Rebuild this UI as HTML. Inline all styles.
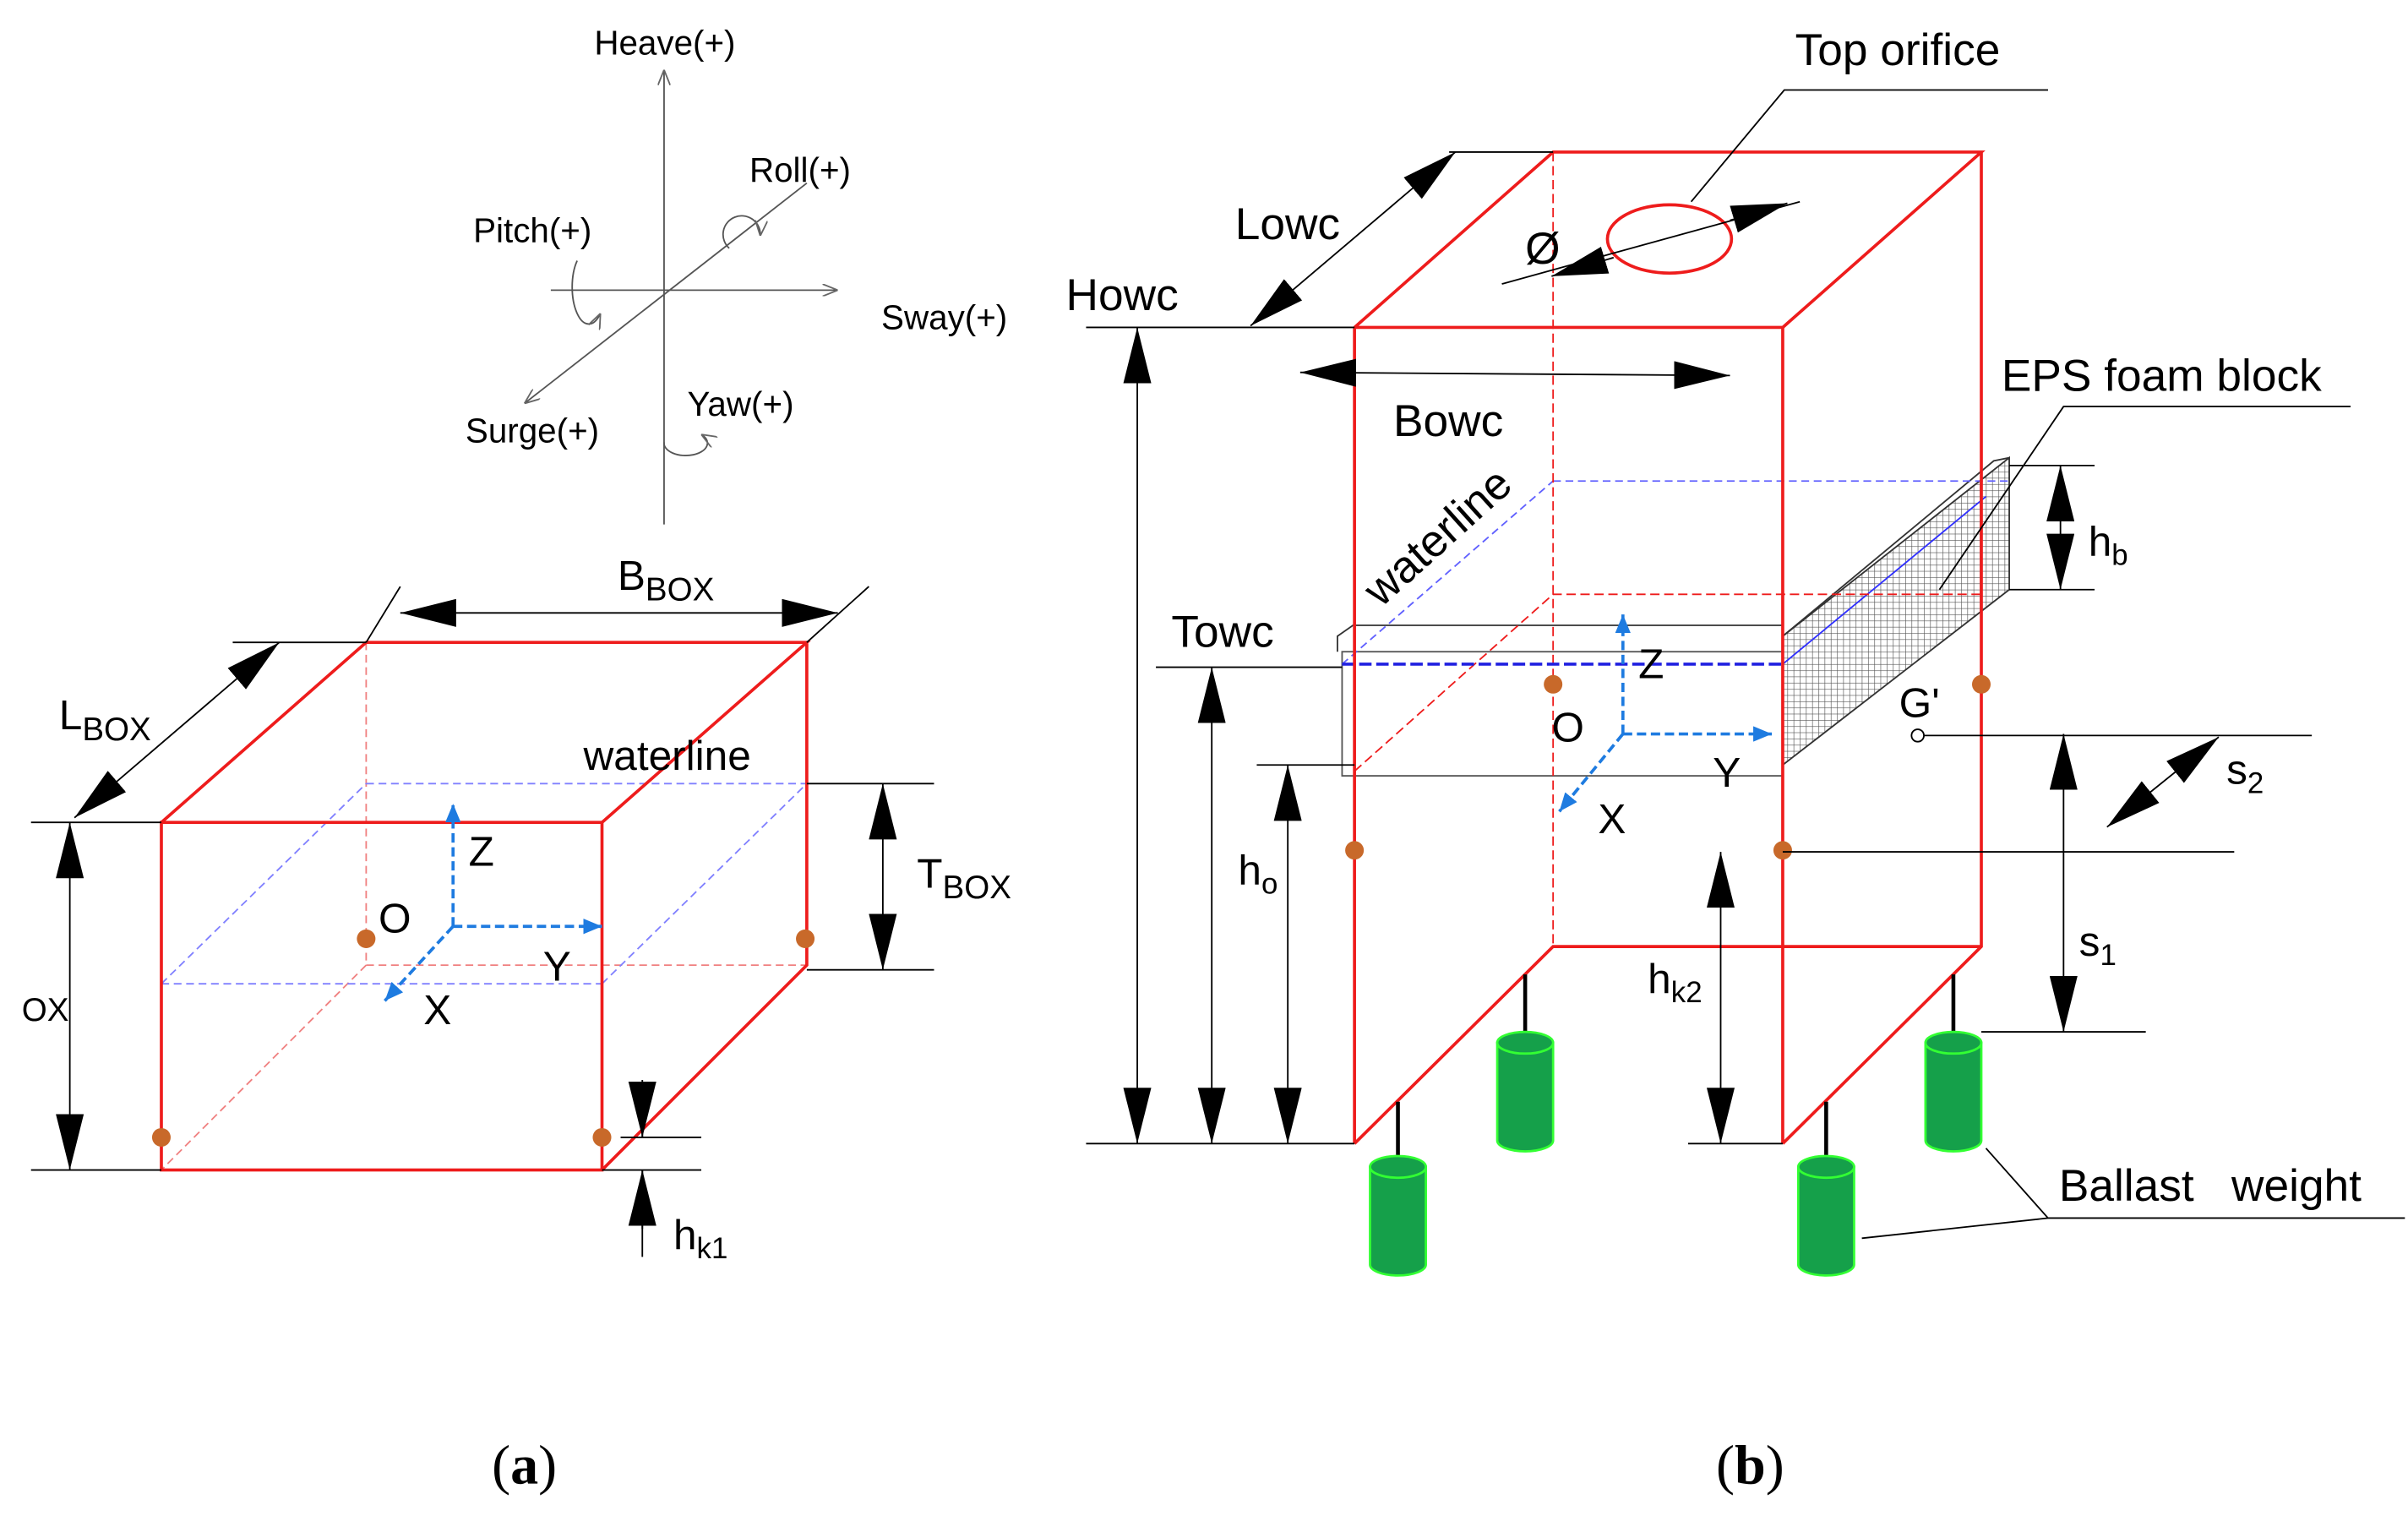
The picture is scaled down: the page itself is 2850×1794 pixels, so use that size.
<!DOCTYPE html>
<html><head><meta charset="utf-8"><style>
html,body{margin:0;padding:0;background:#fff}
svg{display:block}
text{font-family:"Liberation Sans",sans-serif;fill:#000}
</style></head><body>
<svg width="2850" height="1794" viewBox="0 0 1552 977" preserveAspectRatio="none" xmlns="http://www.w3.org/2000/svg">
<defs>
<marker id="ar" viewBox="0 0 36 18" refX="36" refY="9" markerWidth="36" markerHeight="18" markerUnits="userSpaceOnUse" orient="auto-start-reverse"><path d="M0,0 L36,9 L0,18 Z" fill="#000"/></marker>
<marker id="ab" viewBox="0 0 12 10" refX="12" refY="5" markerWidth="12" markerHeight="10" markerUnits="userSpaceOnUse" orient="auto"><path d="M0,0 L12,5 L0,10 Z" fill="#1e7be0"/></marker>
<marker id="ag" viewBox="0 0 10 8" refX="10" refY="4" markerWidth="10" markerHeight="8" markerUnits="userSpaceOnUse" orient="auto"><path d="M0,0 L10,4 L0,8" fill="none" stroke="#666"/></marker>
<pattern id="hatch" width="4" height="4" patternUnits="userSpaceOnUse"><path d="M0,0H4M0,0V4" stroke="#555" stroke-width="0.7"/></pattern>
</defs>

<!-- motion axes -->
<g stroke="#555" stroke-width="1" fill="none">
<line x1="428" y1="338" x2="428" y2="45" marker-end="url(#ag)"/>
<line x1="355" y1="187" x2="540" y2="187" marker-end="url(#ag)"/>
<line x1="520" y1="118" x2="338" y2="260" marker-end="url(#ag)"/>
<path d="M372,168 A9,20 0 1 0 387,202" marker-end="url(#ag)"/>
<path d="M470,160 A12,12 0 1 1 490,152" marker-end="url(#ag)"/>
<path d="M428,285 A14,8 0 1 0 452,280" marker-end="url(#ag)"/>
</g>
<g font-size="22">
<text x="383" y="35">Heave(+)</text>
<text x="483" y="117">Roll(+)</text>
<text x="305" y="156">Pitch(+)</text>
<text x="568" y="212">Sway(+)</text>
<text x="300" y="285">Surge(+)</text>
<text x="443" y="268">Yaw(+)</text>
</g>

<!-- (a) box -->
<g fill="none" stroke-width="1">
<path d="M236,414V622H520M236,622L104,754" stroke="#f08080" stroke-dasharray="5,3"/>
<path d="M236,505H520M104,634H388M104,634L236,505M388,634L520,505" stroke="#8080ff" stroke-dasharray="5,3"/>
</g>
<g fill="none" stroke="#ee1c1c" stroke-width="2">
<rect x="104" y="530" width="284" height="224"/>
<path d="M104,530L236,414H520L388,530M520,414V622L388,754"/>
</g>
<g fill="#c8692a"><circle cx="236" cy="605" r="6"/><circle cx="519" cy="605" r="6"/><circle cx="104" cy="733" r="6"/><circle cx="388" cy="733" r="6"/></g>
<g stroke="#1e7be0" stroke-width="2" stroke-dasharray="6,3" fill="none">
<line x1="292" y1="597" x2="292" y2="518" marker-end="url(#ab)"/>
<line x1="292" y1="597" x2="388" y2="597" marker-end="url(#ab)"/>
<line x1="292" y1="597" x2="248" y2="645" marker-end="url(#ab)"/>
</g>
<g font-size="27">
<text x="302" y="558">Z</text><text x="244" y="601">O</text><text x="350" y="632">Y</text><text x="273" y="660">X</text>
<text x="376" y="496">waterline</text>
<text x="398" y="380">B<tspan font-size="21" dy="7">BOX</tspan></text>
<text x="38" y="470">L<tspan font-size="21" dy="7">BOX</tspan></text>
<text x="591" y="572">T<tspan font-size="21" dy="7">BOX</tspan></text>
<text x="14" y="658" font-size="21">OX</text>
<text x="434" y="805">h<tspan font-size="19" dy="6">k1</tspan></text>
</g>
<g stroke="#000" stroke-width="1" fill="none">
<path d="M236,414L258,378M520,414L560,378M104,530L20,530M236,414L150,414M104,754H20M520,505H602M520,625H602M400,733H452M388,754H452M414,700V733M414,754V810"/>
<line x1="258" y1="395" x2="540" y2="395" marker-start="url(#ar)" marker-end="url(#ar)"/>
<line x1="48" y1="527" x2="180" y2="414" marker-start="url(#ar)" marker-end="url(#ar)"/>
<line x1="45" y1="530" x2="45" y2="754" marker-start="url(#ar)" marker-end="url(#ar)"/>
<line x1="569" y1="505" x2="569" y2="625" marker-start="url(#ar)" marker-end="url(#ar)"/>
<line x1="414" y1="696" x2="414" y2="733" marker-end="url(#ar)"/>
<line x1="414" y1="792" x2="414" y2="754" marker-end="url(#ar)"/>
</g>

<!-- (b) -->
<g fill="none" stroke-width="1">
<path d="M862,420V410L872,403H1149M1149,410L1285,297L1295,295" stroke="#333"/>
<path d="M1149,410L1295,295V380L1149,493Z" fill="url(#hatch)" stroke="#333"/>
<rect x="865" y="420" width="284" height="80" stroke="#555"/>
<path d="M1001,310H1295M865,428L1001,310" stroke="#6060ff" stroke-dasharray="5,3"/>
<path d="M1149,428L1280,320" stroke="#3030ff"/>
<path d="M873,497L1001,383H1277M1001,98V610" stroke="#ee1c1c" stroke-dasharray="6,3"/>
</g>
<line x1="865" y1="428" x2="1149" y2="428" stroke="#2020e0" stroke-width="2" stroke-dasharray="8,3"/>
<g fill="none" stroke="#ee1c1c" stroke-width="2">
<path d="M873,211H1149V737M873,211V737M873,211L1001,98H1277L1149,211M1277,98V610L1149,737M873,737L1001,610H1277"/>
<ellipse cx="1076" cy="154" rx="40" ry="22"/>
</g>
<g fill="#c8692a"><circle cx="1001" cy="441" r="6"/><circle cx="1277" cy="441" r="6"/><circle cx="873" cy="548" r="6"/><circle cx="1149" cy="548" r="6"/></g>
<g stroke="#1e7be0" stroke-width="2" stroke-dasharray="6,3" fill="none">
<line x1="1046" y1="473" x2="1046" y2="396" marker-end="url(#ab)"/>
<line x1="1046" y1="473" x2="1142" y2="473" marker-end="url(#ab)"/>
<line x1="1046" y1="473" x2="1005" y2="523" marker-end="url(#ab)"/>
</g>
<circle cx="1236" cy="474" r="4" fill="#fff" stroke="#000"/>
<g stroke="#000" stroke-width="1" fill="none">
<path d="M1001,98L934,98M873,211H700M968,183L1160,130M1090,130L1150,58H1320M1250,380L1330,262H1515M873,737H700M865,430H745M873,493H810M1149,549H1440M1149,737H1088M1240,474H1490M1277,665H1383M1295,300H1350M1295,380H1350M1200,798L1320,785H1550M1280,740L1320,785"/>
<line x1="806" y1="210" x2="938" y2="98" marker-start="url(#ar)" marker-end="url(#ar)"/>
<line x1="838" y1="240" x2="1115" y2="242" marker-start="url(#ar)" marker-end="url(#ar)"/>
<line x1="1000" y1="178" x2="1040" y2="166" marker-start="url(#ar)"/>
<line x1="1115" y1="142" x2="1152" y2="131" marker-end="url(#ar)"/>
<line x1="733" y1="211" x2="733" y2="737" marker-start="url(#ar)" marker-end="url(#ar)"/>
<line x1="781" y1="430" x2="781" y2="737" marker-start="url(#ar)" marker-end="url(#ar)"/>
<line x1="830" y1="493" x2="830" y2="737" marker-start="url(#ar)" marker-end="url(#ar)"/>
<line x1="1109" y1="549" x2="1109" y2="737" marker-start="url(#ar)" marker-end="url(#ar)"/>
<line x1="1330" y1="473" x2="1330" y2="665" marker-start="url(#ar)" marker-end="url(#ar)"/>
<line x1="1328" y1="300" x2="1328" y2="380" marker-start="url(#ar)" marker-end="url(#ar)"/>
<line x1="1358" y1="533" x2="1430" y2="475" marker-start="url(#ar)" marker-end="url(#ar)"/>
<path d="M901,710V755M983,628V667M1177,710V755M1259,628V667" stroke-width="2.5"/>
</g>
<g fill="#15a04a" stroke="#3f3" stroke-width="1.5">
<g><path d="M883,752V815A18,7 0 0 0 919,815V752Z"/><ellipse cx="901" cy="752" rx="18" ry="7"/></g>
<g><path d="M965,672V735A18,7 0 0 0 1001,735V672Z"/><ellipse cx="983" cy="672" rx="18" ry="7"/></g>
<g><path d="M1159,752V815A18,7 0 0 0 1195,815V752Z"/><ellipse cx="1177" cy="752" rx="18" ry="7"/></g>
<g><path d="M1241,672V735A18,7 0 0 0 1277,735V672Z"/><ellipse cx="1259" cy="672" rx="18" ry="7"/></g>
</g>
<g font-size="29">
<text x="1157" y="42">Top orifice</text>
<text x="796" y="154">Lowc</text>
<text x="687" y="200">Howc</text>
<text x="983" y="170">Ø</text>
<text x="898" y="281">Bowc</text>
<text x="1290" y="252">EPS foam block</text>
<text x="755" y="417">Towc</text>
<text x="890" y="392" transform="rotate(-42 890 392)">waterline</text>
<text x="1056" y="437" font-size="27">Z</text>
<text x="1000" y="478" font-size="27">O</text>
<text x="1104" y="507" font-size="27">Y</text>
<text x="1030" y="537" font-size="27">X</text>
<text x="1224" y="462" font-size="27">G'</text>
<text x="798" y="570" font-size="27">h<tspan font-size="19" dy="6">o</tspan></text>
<text x="1062" y="640" font-size="27">h<tspan font-size="19" dy="6">k2</tspan></text>
<text x="1346" y="358" font-size="27">h<tspan font-size="19" dy="6">b</tspan></text>
<text x="1435" y="505" font-size="27">s<tspan font-size="19" dy="6">2</tspan></text>
<text x="1340" y="616" font-size="27">s<tspan font-size="19" dy="6">1</tspan></text>
<text x="1327" y="774">Ballast&#160;&#160; weight</text>
</g>
<text x="317" y="956" font-size="36" style="font-family:'Liberation Serif',serif">(<tspan font-weight="bold">a</tspan>)</text>
<text x="1106" y="956" font-size="36" style="font-family:'Liberation Serif',serif">(<tspan font-weight="bold">b</tspan>)</text>
</svg>
</body></html>
